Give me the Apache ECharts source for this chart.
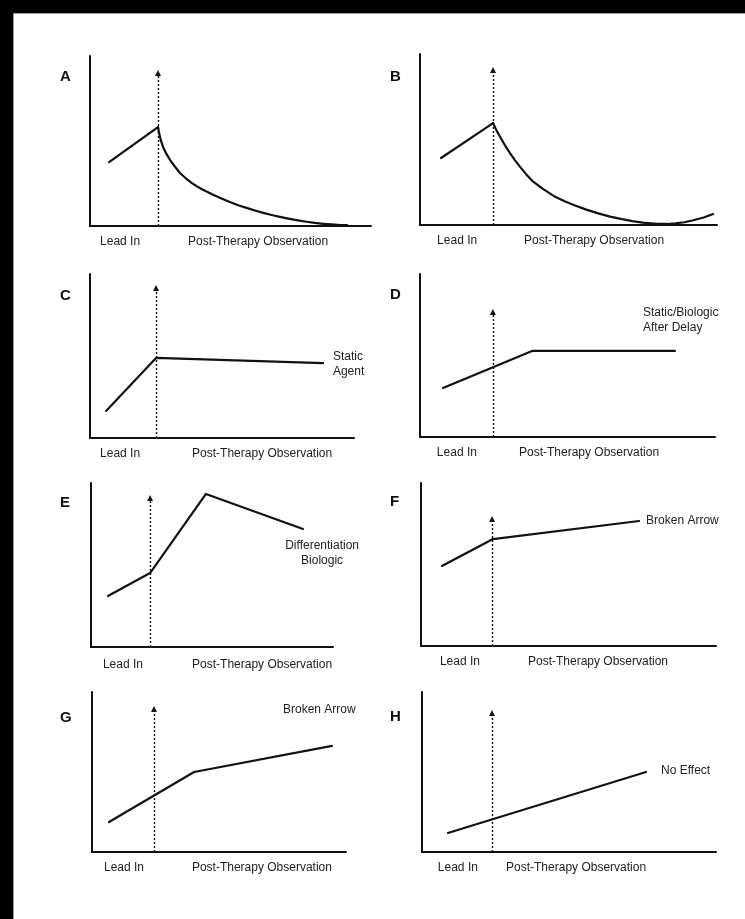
<!DOCTYPE html>
<html><head><meta charset="utf-8">
<script src="https://cdn.jsdelivr.net/npm/echarts@6/dist/echarts.min.js"></script>
<style>html,body{margin:0;padding:0;background:#fff}#c{width:745px;height:919px}</style>
</head><body><div id="c"></div>
<script>
// ---------- data ----------
const panelLetters = ['A','B','C','D','E','F','G','H'];
const xTickLabels = ['Lead In','Post-Therapy Observation'];

const leadInA = [[6.8,37.6],[24.2,58.2]];
const decayA = [[24.2,58.2],[24.6,54.5],[25.2,50.5],[26,46.5],[27.2,42.4],[28.5,38.8],[30.2,35],[32,31.2],[34,28.2],[36,25.5],[38,23.4],[40,21.5],[44,18.3],[47,16],[50,14],[53,12.1],[56,10.5],[59,9],[62,7.6],[65,6.3],[68,5.2],[71,4.2],[74,3.3],[77,2.5],[80,1.8],[83,1.3],[86,0.9],[89,0.6],[91.5,0.5]];
const leadInB = [[7.1,39.2],[24.6,59.6]];
const decayB = [[24.6,59.6],[25.7,55.5],[27,51.5],[28.6,46.6],[30.3,42],[32,37.8],[33.7,34],[35.8,29.6],[38,25.5],[41.5,21],[45,17],[48.5,14.1],[52,11.5],[56,9],[60,6.8],[64,4.9],[68,3.4],[71.5,2.3],[75,1.4],[78,0.9],[80,0.7],[83,0.6],[86,0.9],[89,1.6],[92,2.8],[95.5,4.4],[98.7,6.4]];
const lineC = [[6.1,16.5],[25,48.8],[88.3,45.7]];
const lineD = [[7.8,30.1],[38,52.8],[86.4,52.8]];
const lineE = [[7,31.1],[24.4,45.1],[47.5,93.3],[87.6,72]];
const lineF = [[7.1,49.1],[24.4,65.6],[73.9,76.7]];
const lineG = [[6.7,18.75],[40.2,50],[94.5,66.3]];
const lineH = [[8.8,11.9],[76.2,50]];

const therapyStart = [24.2,24.6,25,24.7,24.4,24.1,24.4,23.8];
const arrowTop = [90,90.6,91.5,76.7,90.9,77.9,89.4,86.9];
const annotationText = ['', '', 'Static\nAgent', 'Static/Biologic\nAfter Delay', 'Differentiation\nBiologic', 'Broken Arrow', 'Broken Arrow', 'No Effect'];

// ---------- layout (pixels / anchors) ----------
const panelSegments = [[leadInA, decayA],[leadInB, decayB],[lineC],[lineD],[lineE],[lineF],[lineG],[lineH]];
const layout = [
  {box:[90,56,371,226],  letter:[60,68],  ticks:[10.7,59.8], margin:10, note:null},
  {box:[420,54,717,225], letter:[390,68], ticks:[12.5,58.6], margin:10, note:null},
  {box:[90,274,354,438], letter:[60,287], ticks:[11.4,65.2], margin:10, note:[92,45.1,'left']},
  {box:[420,274,715,437],letter:[390,286],ticks:[12.5,57.3], margin:10, note:[75.6,71.8,'left']},
  {box:[91,483,333,647], letter:[60,494], ticks:[13.2,70.7], margin:12, note:[95.5,57.3,'center']},
  {box:[421,483,716,646],letter:[390,493],ticks:[13.2,60],   margin:10, note:[76.3,76.7,'left']},
  {box:[92,692,346,852], letter:[60,709], ticks:[12.6,66.9], margin:10, note:[75.2,88.75,'left']},
  {box:[422,692,716,852],letter:[390,708],ticks:[12.2,52.4], margin:10, note:[81.3,50.6,'left']}
];

const FONT = '"Liberation Sans", Arial, Helvetica, sans-serif';
const INK = '#111';
const TXT = '#222';

const grids = [], xAxes = [], yAxes = [], series = [], titles = [];
layout.forEach((p, i) => {
  const [l, t, r, b] = p.box;
  grids.push({left:l, top:t, width:r-l, height:b-t, show:false});
  const ticks = p.ticks;
  xAxes.push({
    type:'value', gridIndex:i, min:0, max:100,
    axisLine:{show:true, onZero:false, lineStyle:{color:INK, width:2}},
    axisTick:{show:false}, splitLine:{show:false},
    axisLabel:{
      show:true, customValues:ticks, hideOverlap:false,
      margin:p.margin, color:TXT, fontSize:12, fontFamily:FONT,
      formatter:(v)=> Math.abs(v-ticks[0])<0.01 ? xTickLabels[0] : (Math.abs(v-ticks[1])<0.01 ? xTickLabels[1] : '')
    }
  });
  yAxes.push({
    type:'value', gridIndex:i, min:0, max:100,
    axisLine:{show:true, onZero:false, lineStyle:{color:INK, width:2}},
    axisTick:{show:false}, splitLine:{show:false}, axisLabel:{show:false}
  });
  titles.push({
    text:panelLetters[i], left:p.letter[0], top:p.letter[1], padding:0,
    textStyle:{fontSize:15, fontWeight:'bold', color:INK, fontFamily:FONT, lineHeight:18}
  });
  panelSegments[i].forEach((seg, k) => {
    const s = {
      type:'line', xAxisIndex:i, yAxisIndex:i, data:seg,
      symbol:'none', clip:false, animation:false, silent:true, smooth:false,
      lineStyle:{color:INK, width:2.2, join:'round', cap:'round'}
    };
    if (k === 0) {
      s.markLine = {
        silent:true, animation:false,
        symbol:['none','triangle'], symbolSize:6,
        label:{show:false},
        lineStyle:{color:INK, width:1.4, type:[2,2]},
        data:[[{coord:[therapyStart[i],0]},{coord:[therapyStart[i],arrowTop[i]]}]]
      };
      if (p.note) {
        s.markPoint = {
          silent:true, animation:false,
          data:[{
            coord:[p.note[0], p.note[1]], symbol:'circle', symbolSize:0,
            label:{show:true, position:'inside', formatter:annotationText[i],
              align:p.note[2], verticalAlign:'middle',
              color:TXT, fontSize:12, lineHeight:15, fontFamily:FONT}
          }]
        };
      }
    }
    series.push(s);
  });
});

const chart = echarts.init(document.getElementById('c'), null, {renderer:'canvas'});
chart.setOption({
  backgroundColor:'#fff',
  animation:false,
  title:titles,
  grid:grids, xAxis:xAxes, yAxis:yAxes, series:series,
  graphic:[
    {type:'rect', shape:{x:0,y:0,width:745,height:13}, style:{fill:'#000'}, silent:true},
    {type:'rect', shape:{x:0,y:0,width:13,height:919}, style:{fill:'#000'}, silent:true},
    {type:'line', shape:{x1:13,y1:13.5,x2:745,y2:13.5}, style:{stroke:'#999',lineWidth:1}, silent:true},
    {type:'line', shape:{x1:13.5,y1:13,x2:13.5,y2:919}, style:{stroke:'#999',lineWidth:1}, silent:true}
  ]
});
</script></body></html>
